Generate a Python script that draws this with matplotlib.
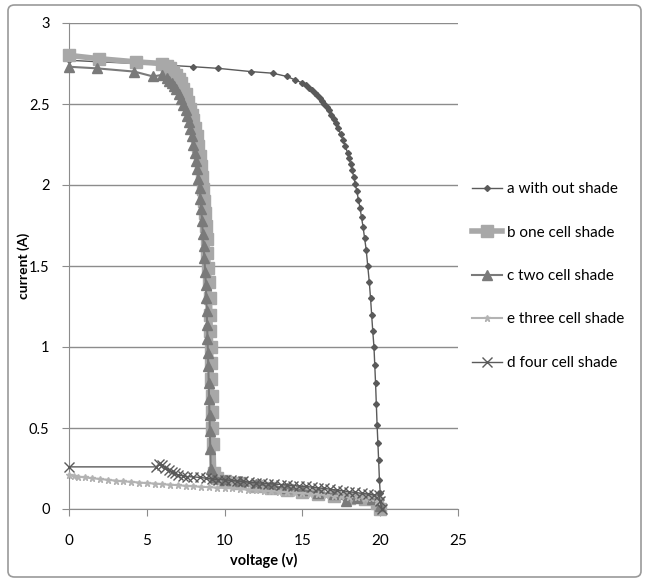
import matplotlib
matplotlib.use("Agg")
import matplotlib.pyplot as plt
from matplotlib.patches import FancyBboxPatch

plt.rcParams['font.family'] = ['Lato', 'DejaVu Sans']

# a with out shade
a_v = [0, 2, 4.4, 6.2, 8, 9.6, 11.7, 13.1, 14.0, 14.5, 15.0, 15.2, 15.4, 15.6, 15.8, 15.95,
       16.1, 16.25, 16.4, 16.55, 16.7, 16.85, 17.0, 17.15, 17.3, 17.45, 17.6, 17.75, 17.9,
       18.0, 18.1, 18.2, 18.3, 18.4, 18.5, 18.6, 18.7, 18.8, 18.9, 19.0, 19.1, 19.2, 19.3,
       19.38, 19.45, 19.52, 19.6, 19.65, 19.7, 19.75, 19.8, 19.85, 19.9, 19.95, 20.0,
       20.05, 20.1]
a_i = [2.77, 2.76, 2.75, 2.74, 2.73, 2.72, 2.70, 2.69, 2.67, 2.65, 2.63, 2.615, 2.60, 2.585,
       2.57, 2.555, 2.54, 2.52, 2.50, 2.48, 2.46, 2.435, 2.41, 2.38, 2.35, 2.315, 2.28,
       2.24, 2.20, 2.165, 2.13, 2.09, 2.05, 2.005, 1.96, 1.91, 1.86, 1.80, 1.74, 1.67,
       1.60, 1.50, 1.40, 1.30, 1.20, 1.10, 1.00, 0.89, 0.78, 0.65, 0.52, 0.41, 0.30, 0.18,
       0.10, 0.03, 0.0]

# b one cell shade
b_v = [0, 1.9, 4.3, 6.0, 6.3, 6.5, 6.7, 6.9, 7.05, 7.2, 7.35, 7.5, 7.65, 7.8, 7.9, 8.0,
       8.1, 8.2, 8.3, 8.4, 8.48, 8.55, 8.62, 8.7, 8.75, 8.8, 8.85, 8.9, 8.95, 9.0, 9.03,
       9.05, 9.08, 9.1, 9.12, 9.15, 9.18, 9.2, 9.22, 9.25, 9.3, 9.5, 10, 11, 12, 13, 14,
       15, 16, 17, 18, 19, 19.8, 20.0]
b_i = [2.80, 2.78, 2.76, 2.75, 2.735, 2.72, 2.70, 2.68, 2.655, 2.63, 2.595, 2.56, 2.515,
       2.47, 2.435, 2.40, 2.35, 2.30, 2.24, 2.18, 2.115, 2.05, 1.975, 1.90, 1.825, 1.75,
       1.665, 1.58, 1.49, 1.40, 1.30, 1.20, 1.10, 1.00, 0.90, 0.80, 0.70, 0.60, 0.50,
       0.40, 0.22, 0.19, 0.175, 0.16, 0.145, 0.13, 0.12, 0.105, 0.09, 0.08, 0.07, 0.06,
       0.04, 0.0]

# c two cell shade
c_v = [0, 1.8, 4.2, 5.4, 6.0, 6.3, 6.45, 6.6, 6.75, 6.9, 7.05, 7.2, 7.35, 7.5, 7.6, 7.7,
       7.8, 7.9, 8.0, 8.1, 8.18, 8.25, 8.32, 8.4, 8.45, 8.5, 8.55, 8.6, 8.65, 8.7, 8.75,
       8.8, 8.82, 8.85, 8.88, 8.9, 8.93, 8.95, 8.98, 9.0, 9.03, 9.05, 9.08, 9.1, 9.3, 10,
       11, 12, 13, 14, 15, 16, 17, 17.8, 18.5, 19.5, 20.0]
c_i = [2.73, 2.72, 2.70, 2.67, 2.68, 2.66, 2.645, 2.63, 2.61, 2.59, 2.56, 2.53, 2.495,
       2.46, 2.425, 2.39, 2.345, 2.30, 2.25, 2.20, 2.15, 2.10, 2.04, 1.98, 1.915, 1.85,
       1.775, 1.70, 1.625, 1.55, 1.465, 1.38, 1.30, 1.22, 1.135, 1.05, 0.965, 0.88, 0.78,
       0.68, 0.58, 0.48, 0.37, 0.25, 0.20, 0.18, 0.17, 0.155, 0.14, 0.13, 0.115, 0.10,
       0.09, 0.05, 0.07, 0.06, 0.02]

# e three cell shade
e_v = [0, 0.3, 0.6, 1, 1.5, 2, 2.5, 3, 3.5, 4, 4.5, 5, 5.5, 6, 6.5, 7, 7.5, 8, 8.5, 9,
       9.5, 10, 10.5, 11, 11.5, 12, 12.5, 13, 13.5, 14, 14.5, 15, 15.5, 16, 16.5, 17,
       17.5, 18, 18.5, 19, 19.4, 19.8]
e_i = [0.21, 0.205, 0.20, 0.195, 0.19, 0.185, 0.18, 0.175, 0.17, 0.168, 0.163, 0.16, 0.157,
       0.153, 0.15, 0.147, 0.143, 0.14, 0.137, 0.135, 0.132, 0.13, 0.127, 0.124, 0.12,
       0.117, 0.113, 0.11, 0.107, 0.104, 0.10, 0.097, 0.093, 0.09, 0.086, 0.082, 0.078,
       0.075, 0.072, 0.068, 0.065, 0.05]

# d four cell shade
d_v = [0, 5.6, 5.8, 6.0, 6.2, 6.4, 6.6, 6.8, 7.0, 7.3, 7.6, 8.0, 8.4, 8.8, 9.2, 9.6, 10.0,
       10.4, 10.8, 11.2, 11.6, 12.0, 12.4, 12.8, 13.2, 13.6, 14.0, 14.4, 14.8, 15.2, 15.6,
       16.0, 16.4, 16.8, 17.2, 17.6, 18.0, 18.4, 18.8, 19.2, 19.6, 19.9, 20.0, 20.1]
d_i = [0.26, 0.26, 0.28, 0.27, 0.255, 0.24, 0.23, 0.22, 0.21, 0.205, 0.20, 0.198, 0.195,
       0.19, 0.185, 0.182, 0.18, 0.177, 0.173, 0.17, 0.166, 0.163, 0.16, 0.157, 0.154,
       0.151, 0.148, 0.145, 0.142, 0.139, 0.135, 0.131, 0.127, 0.122, 0.117, 0.112, 0.107,
       0.102, 0.097, 0.092, 0.088, 0.085, 0.05, 0.0]

labels = ["a with out shade", "b one cell shade", "c two cell shade",
          "e three cell shade", "d four cell shade"]

fig = plt.figure(figsize=(6.49, 5.83), dpi=100)
ax = fig.add_axes([69 / 649, 74 / 583, 389 / 649, 486 / 583])

ax.plot(a_v, a_i, color='#5a5a5a', lw=1, marker='D', ms=3, label=labels[0], clip_on=False, zorder=3)
ax.plot(b_v, b_i, color='#a8a8a8', lw=4, marker='s', ms=8, label=labels[1], clip_on=False, zorder=3)
ax.plot(c_v, c_i, color='#7a7a7a', lw=1.5, marker='^', ms=7, label=labels[2], clip_on=False, zorder=3)
ax.plot(e_v, e_i, color='#b3b3b3', lw=1.5, marker='*', ms=5, label=labels[3], clip_on=False, zorder=3)
ax.plot(d_v, d_i, color='#5a5a5a', lw=1, marker='x', ms=7, mew=1, label=labels[4], clip_on=False, zorder=3)

ax.set_xlim(0, 25)
ax.set_ylim(0, 3)
ax.set_xticks([0, 5, 10, 15, 20, 25])
ax.set_yticks([0, 0.5, 1, 1.5, 2, 2.5, 3])
ax.set_yticklabels(['0', '0.5', '1', '1.5', '2', '2.5', '3'])
ax.yaxis.grid(True, color='#8c8c8c', lw=1)
ax.set_axisbelow(True)
for s in ['top', 'right']:
    ax.spines[s].set_visible(False)
for s in ['left', 'bottom']:
    ax.spines[s].set_color('#8c8c8c')
ax.tick_params(axis='x', length=5, color='#8c8c8c', pad=13, labelsize=11)
ax.tick_params(axis='y', length=5, color='#8c8c8c', pad=9, labelsize=10.5)

ax.set_xlabel('voltage (v)', fontweight='bold', fontsize=10.5)
ax.set_ylabel('current (A)', fontweight='bold', fontsize=10)
ax.xaxis.set_label_coords(0.5, -0.09)
ax.yaxis.set_label_coords(-0.1, 0.5)

fig.legend(loc='center left', bbox_to_anchor=(472 / 649, 1 - 276 / 583), frameon=False,
           fontsize=11, labelspacing=1.93, handlelength=1.96, handletextpad=0.3,
           borderpad=0, borderaxespad=0)

fig.patches.append(FancyBboxPatch((8 / 649, 6 / 583), 633 / 649, 572 / 583,
                                  boxstyle='round,pad=0,rounding_size=0.01',
                                  transform=fig.transFigure, fill=False,
                                  edgecolor='#9a9a9a', lw=1.2))

fig.savefig('out.png', dpi=100)
